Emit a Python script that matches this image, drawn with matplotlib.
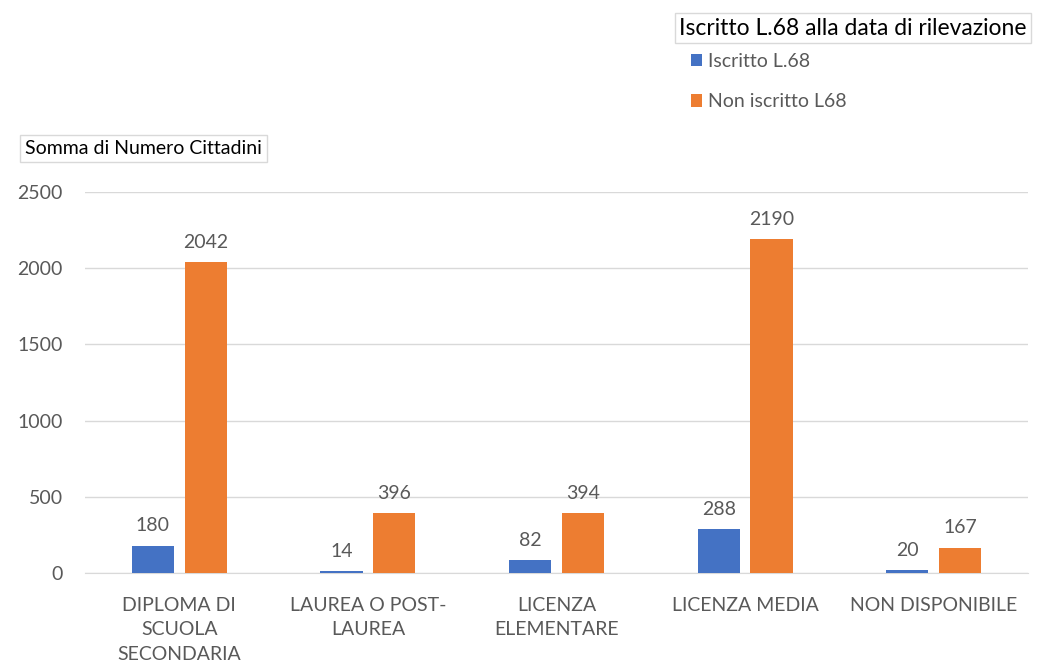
import numpy as np
import matplotlib
matplotlib.use("Agg")
import matplotlib.pyplot as plt

categorie = ["DIPLOMA DI\nSCUOLA\nSECONDARIA", "LAUREA O POST-\nLAUREA", "LICENZA\nELEMENTARE",
             "LICENZA MEDIA", "NON DISPONIBILE"]
iscritti = [180, 14, 82, 288, 20]
non_iscritti = [2042, 396, 394, 2190, 167]
serie = ["Iscritto L.68", "Non iscritto L68"]

plt.rcParams['font.family'] = ['Lato', 'DejaVu Sans']
grigio = "#595959"
blu = "#4472C4"
arancio = "#ED7D31"
fs = 14

fig = plt.figure(figsize=(10.5, 6.67), dpi=100)
ax = fig.add_axes([0.081, 0.141, 0.898, 0.571])

x = np.arange(len(categorie))
w = 0.223
off = 0.14
b1 = ax.bar(x - off, iscritti, w, color=blu, label=serie[0], zorder=3)
b2 = ax.bar(x + off, non_iscritti, w, color=arancio, label=serie[1], zorder=3)

for bars in (b1, b2):
    ax.bar_label(bars, padding=8, fontsize=fs, color=grigio)

ax.set_xlim(-0.5, len(categorie) - 0.5)
ax.set_ylim(0, 2500)
ax.set_yticks(range(0, 2501, 500))
ax.set_xticks(x)
ax.set_xticklabels(categorie, fontsize=fs, color=grigio, linespacing=1.55)
ax.tick_params(axis='y', labelsize=fs, labelcolor=grigio, length=0, pad=16)
ax.tick_params(axis='x', length=0, pad=17)
ax.grid(axis='y', color="#d9d9d9", linewidth=1, zorder=0)
for s in ["top", "right", "left"]:
    ax.spines[s].set_visible(False)
ax.spines["bottom"].set_color("#d9d9d9")

# etichetta asse y in un riquadro
fig.text(0.024, 0.777, "Somma di Numero Cittadini", fontsize=fs, color="#000000",
         va="center", ha="left",
         bbox=dict(facecolor="white", edgecolor="#d9d9d9", boxstyle="square,pad=0.25"))

# titolo legenda in un riquadro
fig.text(0.647, 0.958, "Iscritto L.68 alla data di rilevazione", fontsize=16.5, color="#000000",
         va="center", ha="left",
         bbox=dict(facecolor="white", edgecolor="#d9d9d9", boxstyle="square,pad=0.2"))

fig.legend(handles=[b1, b2], labels=serie, loc="upper left", bbox_to_anchor=(0.641, 0.947),
           frameon=False, fontsize=fs, labelcolor=grigio, handlelength=0.6, handleheight=0.6,
           handletextpad=0.3, labelspacing=1.2)

fig.savefig("out.png", dpi=100)
